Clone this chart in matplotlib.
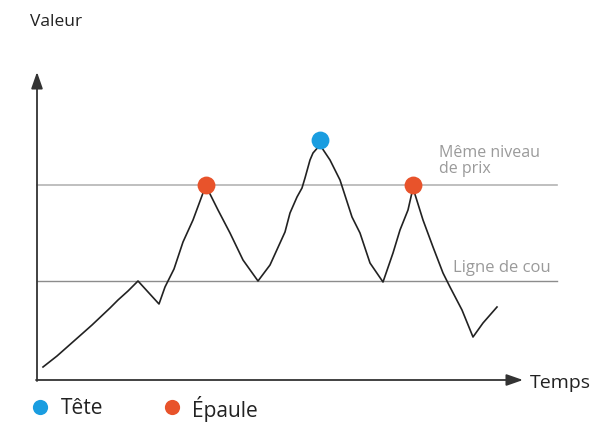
import matplotlib.pyplot as plt

plt.rcParams['font.family'] = ['Open Sans', 'DejaVu Sans']

# -----------------------------
# Donnees (temps, valeur)
# -----------------------------

temps = [6, 20, 46, 55, 73, 81, 91, 101, 122, 128, 137, 146, 156, 166, 169,
         181, 193, 206, 221, 233, 248, 253, 260, 265, 268, 273, 276, 283,
         293, 303, 315, 323, 333, 346, 356, 363, 371, 376,
         386, 396, 406, 413, 425, 436, 446, 460]
valeur = [13, 24, 47, 55, 72, 80, 89, 99, 76, 93, 111, 138, 160, 187, 194,
          170, 147, 120, 99, 115, 148, 167, 183, 192, 202, 220, 227, 235,
          220, 200, 163, 147, 117, 98, 127, 150, 170, 192,
          160, 133, 107, 93, 70, 43, 57, 73]

tete_t, tete_v = [283], [240]
epaule_t, epaule_v = [169, 376], [195, 195]

niveau_epaule = 195
ligne_cou = 99

bleu = "#1a9de0"
orange = "#e8532b"

# -----------------------------
# Figure
# -----------------------------

fig = plt.figure(figsize=(5.94, 4.22), dpi=100)
ax = fig.add_axes([0, 0, 1, 1])
ax.set_xlim(-37, 557)
ax.set_ylim(-42, 380)
ax.axis("off")

# lignes horizontales
ax.plot([0, 520], [niveau_epaule, niveau_epaule], color="#b4b4b4", lw=1.2, zorder=1)
ax.plot([0, 520], [ligne_cou, ligne_cou], color="#8c8c8c", lw=1.0, zorder=1)

# axes avec fleches
ax.annotate("", xy=(0, 308), xytext=(0, -1),
            arrowprops=dict(arrowstyle="-|>,head_length=1.0,head_width=0.35",
                            color="#333333", lw=1.3, shrinkA=0, shrinkB=0))
ax.annotate("", xy=(486, 0), xytext=(-1, 0),
            arrowprops=dict(arrowstyle="-|>,head_length=1.0,head_width=0.35",
                            color="#333333", lw=1.3, shrinkA=0, shrinkB=0))

# courbe du prix
ax.plot(temps, valeur, color="#222222", lw=1.2, zorder=2)

# points
ax.scatter(epaule_t, epaule_v, s=165, color=orange, zorder=3, linewidths=0)
ax.scatter(tete_t, tete_v, s=165, color=bleu, zorder=3, linewidths=0)

# textes
ax.text(-7, 358, "Valeur", fontsize=12.5, color="#222222", va="center", ha="left")
ax.text(493, -3, "Temps", fontsize=14, color="#222222", va="center", ha="left")
ax.text(402, 219, "Même niveau\nde prix", fontsize=11.5, color="#9a9a9a",
        va="center", ha="left", linespacing=1.0)
ax.text(416, 112, "Ligne de cou", fontsize=12, color="#9a9a9a", va="center", ha="left")

# legende
ax.scatter([3], [-27], s=120, color=bleu, linewidths=0, clip_on=False)
ax.text(24, -29, "Tête", fontsize=15, color="#222222", va="center", ha="left")
ax.scatter([135], [-27], s=120, color=orange, linewidths=0, clip_on=False)
ax.text(155, -29, "Épaule", fontsize=15, color="#222222", va="center", ha="left")

fig.savefig("out.png", dpi=100, facecolor="white")
